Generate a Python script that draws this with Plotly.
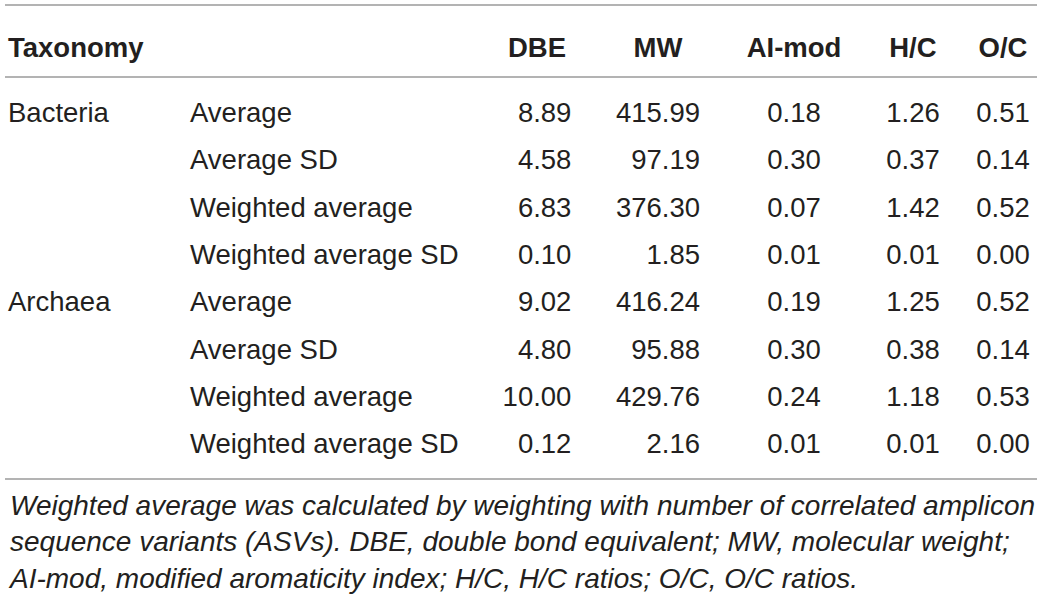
import plotly.graph_objects as go

# ---- data ----
taxonomy = ["Bacteria", "", "", "", "Archaea", "", "", ""]
statistic = ["Average", "Average SD", "Weighted average", "Weighted average SD",
             "Average", "Average SD", "Weighted average", "Weighted average SD"]
DBE = [8.89, 4.58, 6.83, 0.10, 9.02, 4.80, 10.00, 0.12]
MW = [415.99, 97.19, 376.30, 1.85, 416.24, 95.88, 429.76, 2.16]
AI_mod = [0.18, 0.30, 0.07, 0.01, 0.19, 0.30, 0.24, 0.01]
HC = [1.26, 0.37, 1.42, 0.01, 1.25, 0.38, 1.18, 0.01]
OC = [0.51, 0.14, 0.52, 0.00, 0.52, 0.14, 0.53, 0.00]
headers = ["Taxonomy", "", "DBE", "MW", "AI-mod", "H/C", "O/C"]
footnote_lines = [
    "Weighted average was calculated by weighting with number of correlated amplicon",
    "sequence variants (ASVs). DBE, double bond equivalent; MW, molecular weight;",
    "AI-mod, modified aromaticity index; H/C, H/C ratios; O/C, O/C ratios.",
]

W, H = 1042, 602
FONT = "Liberation Sans, Arial, sans-serif"
TXT = "#231f20"
RULE = "#9a9a9a"


def fmt(vals):
    s = [f"{v:.2f}" for v in vals]
    n = max(len(x) for x in s)
    # right-justify with figure spaces so the centred column is right-aligned
    return ["\u2007" * (n - len(x)) + x for x in s]


cols = [taxonomy, statistic, fmt(DBE), fmt(MW), fmt(AI_mod), fmt(HC), fmt(OC)]
colw = [182, 306, 98, 144, 128, 110, 70]

top_px = 24.4
header_h = 69
row_h = 47.3

fig = go.Figure()
fig.add_trace(go.Table(
    domain=dict(x=[0, sum(colw) / W], y=[0.1, 1 - top_px / H]),
    columnwidth=colw,
    header=dict(
        values=[f"<b>{h}</b>" for h in headers],
        align=["left", "left", "center", "center", "center", "center", "center"],
        font=dict(family=FONT, size=27.5, color=TXT),
        fill=dict(color="white"),
        line=dict(color="rgba(0,0,0,0)", width=0),
        height=header_h,
    ),
    cells=dict(
        values=cols,
        align=["left", "left", "center", "center", "center", "center", "center"],
        font=dict(family=FONT, size=27.5, color=TXT),
        fill=dict(color="white"),
        line=dict(color="rgba(0,0,0,0)", width=0),
        height=row_h,
    ),
))

# horizontal rules
for ypx in [5, 77, 479]:
    fig.add_shape(type="line", xref="paper", yref="paper",
                  x0=5 / W, x1=1037 / W, y0=1 - ypx / H, y1=1 - ypx / H,
                  line=dict(color=RULE, width=1.6))

fig.add_annotation(
    text="<br>".join(footnote_lines),
    xref="paper", yref="paper", x=6 / W, y=1 - 487.5 / H,
    xanchor="left", yanchor="top", align="left", showarrow=False,
    font=dict(family=FONT, size=28, color=TXT, style="italic"),
)

fig.update_layout(
    width=W, height=H, margin=dict(l=0, r=0, t=0, b=0),
    paper_bgcolor="white", plot_bgcolor="white",
)

fig.write_html("out.html", config={"displayModeBar": False},
               post_script="document.body.style.margin='0';")
